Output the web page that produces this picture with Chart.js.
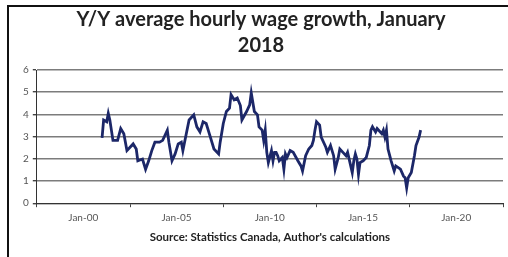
<!DOCTYPE html>
<html>
<head>
<meta charset="utf-8">
<script src="https://cdn.jsdelivr.net/npm/chart.js@4.4.1/dist/chart.umd.min.js"></script>
<style>
  html, body { margin: 0; padding: 0; background: #fff; }
  #wrap { position: relative; width: 508px; height: 257px; }
  #frame { position: absolute; left: 7px; top: 5px; right: -4px; bottom: -4px;
           border-left: 2px solid #111; border-top: 2px solid #111; pointer-events: none; }
</style>
</head>
<body>
<div id="wrap">
  <canvas id="wageChart" width="508" height="257"></canvas>
  <div id="frame"></div>
</div>
<script>
// months counted from Jan 2000 (0 = Jan-00)
const months = [12, 13, 15, 16, 17, 18, 19, 22, 24, 26,
  28, 30, 32, 34, 35, 38, 40, 42, 44, 46,
  49, 51, 54, 55, 57, 59, 61, 63, 64, 66,
  68, 71, 73, 75, 77, 79, 81, 84, 87, 88,
  90, 92, 94, 95, 97, 99, 101, 102, 105, 107,
  108, 110, 112, 113, 115, 116, 117, 118, 119, 121,
  122, 123, 124, 125, 126, 128, 129, 130, 131, 133,
  135, 138, 140, 141, 143, 145, 147, 148, 149, 150,
  152, 153, 156, 157, 159, 161, 162, 164, 165, 167,
  169, 170, 173, 174, 175, 176, 177, 178, 180, 182,
  184, 185, 186, 188, 189, 192, 193, 194, 195, 196,
  198, 200, 201, 204, 206, 207, 208, 209, 211, 213,
  214, 216, 217];
const wageGrowth = [2.94, 3.75, 3.67, 4.05, 3.75, 3.29, 2.83, 2.83, 3.36, 3.13,
  2.37, 2.52, 2.67, 2.44, 1.91, 1.99, 1.53, 1.91, 2.37, 2.75,
  2.75, 2.83, 3.29, 2.75, 1.91, 2.22, 2.67, 2.75, 2.37, 3.06,
  3.75, 3.98, 3.44, 3.21, 3.67, 3.59, 3.13, 2.44, 2.22, 2.75,
  3.59, 4.13, 4.28, 4.89, 4.66, 4.74, 4.40, 3.75, 4.13, 4.43,
  4.97, 4.13, 3.98, 3.44, 3.29, 2.83, 3.29, 2.29, 1.83, 2.37,
  1.91, 2.29, 2.29, 2.14, 1.91, 2.06, 1.53, 2.22, 2.06, 2.37,
  2.29, 1.91, 1.68, 1.45, 2.14, 2.44, 2.60, 2.83, 3.29, 3.67,
  3.52, 2.98, 2.52, 2.29, 2.60, 2.14, 1.53, 2.06, 2.44, 2.29,
  2.14, 2.29, 1.38, 1.91, 2.22, 1.99, 1.30, 1.83, 1.91, 2.06,
  2.60, 3.29, 3.44, 3.21, 3.36, 3.13, 3.29, 2.98, 3.29, 2.44,
  1.91, 1.45, 1.68, 1.53, 1.22, 1.15, 0.69, 1.15, 1.38, 2.14,
  2.60, 2.98, 3.29];

// axis boundaries (tick marks) and the labels sitting between them
const xTickMonths = [-30, 30, 90, 150, 210, 270];
const xLabels = ['Jan-00', 'Jan-05', 'Jan-10', 'Jan-15', 'Jan-20', ''];
const yTicks = [0, 1, 2, 3, 4, 5, 6];

const points = months.map((m, i) => ({ x: m, y: wageGrowth[i] }));

const ctx = document.getElementById('wageChart').getContext('2d');
const tickFont = { family: 'Lato', size: 10 };

const wageChart = new Chart(ctx, {
  type: 'line',
  data: {
    datasets: [{
      label: 'Y/Y wage growth',
      data: points,
      borderColor: '#1c2768',
      borderWidth: 2.8,
      pointRadius: 0,
      tension: 0,
      fill: false
    }]
  },
  options: {
    responsive: false,
    animation: false,
    layout: { padding: { left: 19, right: 5, top: 0, bottom: 9 } },
    plugins: {
      legend: { display: false },
      tooltip: { enabled: false },
      title: {
        display: true,
        text: ['Y/Y average hourly wage growth, January', '2018'],
        color: '#222',
        font: { family: 'Lato', size: 20, weight: 'bold', lineHeight: 1.3 },
        padding: { top: 7, bottom: 11 }
      }
    },
    scales: {
      x: {
        type: 'linear',
        min: -30,
        max: 270,
        afterBuildTicks: axis => { axis.ticks = xTickMonths.map(v => ({ value: v })); },
        ticks: {
          color: '#555',
          font: tickFont,
          labelOffset: 46.5,
          maxRotation: 0,
          padding: 5,
          callback: (v) => xLabels[xTickMonths.indexOf(v)]
        },
        grid: { drawOnChartArea: false, tickLength: 4, color: '#444' },
        border: { color: '#333', width: 1 },
        title: {
          display: true,
          text: "Source: Statistics Canada, Author's calculations",
          color: '#222',
          font: { family: 'Lato', size: 11.5, weight: 'bold' },
          padding: { top: 1 }
        }
      },
      y: {
        min: 0,
        max: 6,
        afterBuildTicks: axis => { axis.ticks = yTicks.map(v => ({ value: v })); },
        ticks: { color: '#555', font: tickFont, padding: 4 },
        grid: { color: '#7c7c7c', lineWidth: 1.4, tickLength: 4, tickColor: '#444' },
        border: { color: '#333', width: 1 }
      }
    }
  }
});
</script>
</body>
</html>
